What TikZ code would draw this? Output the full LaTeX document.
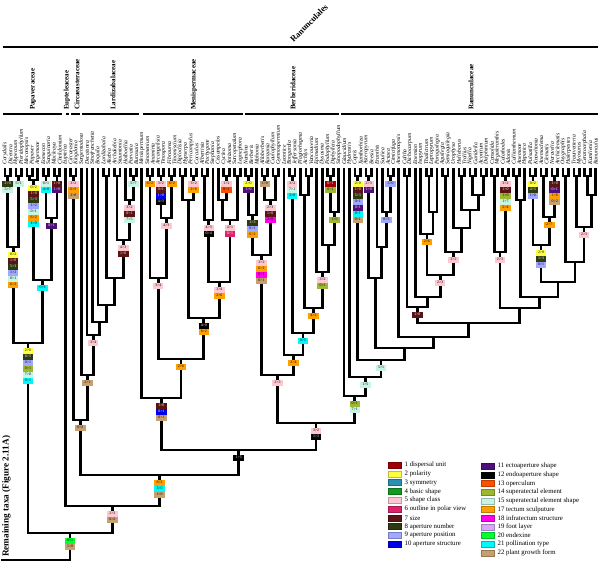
\documentclass[tikz,border=0pt]{standalone}
\usepackage{fontspec}
\setmainfont{Liberation Serif}
\usetikzlibrary{calc,positioning}
\definecolor{c1}{HTML}{A00000}\definecolor{c2}{HTML}{FFFF40}\definecolor{c3}{HTML}{2A8FB0}
\definecolor{c4}{HTML}{109A20}\definecolor{c5}{HTML}{FFC8D0}\definecolor{c6}{HTML}{E0206A}
\definecolor{c7}{HTML}{5A1414}\definecolor{c8}{HTML}{2E3A10}\definecolor{c9}{HTML}{A0A8FF}
\definecolor{c10}{HTML}{0000E8}\definecolor{c11}{HTML}{50107A}\definecolor{c12}{HTML}{000000}
\definecolor{c13}{HTML}{FF5000}\definecolor{c14}{HTML}{9CB830}\definecolor{c15}{HTML}{C8F4E4}
\definecolor{c17}{HTML}{FFA000}\definecolor{c18}{HTML}{FF00E8}\definecolor{c19}{HTML}{D8A8FF}
\definecolor{c20}{HTML}{00FF30}\definecolor{c21}{HTML}{00F8F8}\definecolor{c22}{HTML}{C8A070}
\colorlet{t1}{white}\colorlet{t2}{black}\colorlet{t3}{white}\colorlet{t4}{white}\colorlet{t5}{black}
\colorlet{t6}{white}\colorlet{t7}{white}\colorlet{t8}{white}\colorlet{t9}{black}\colorlet{t10}{white}
\colorlet{t11}{white}\colorlet{t12}{white}\colorlet{t13}{black}\colorlet{t14}{black}\colorlet{t15}{black}
\colorlet{t17}{black}\colorlet{t18}{black}\colorlet{t19}{black}\colorlet{t20}{black}\colorlet{t21}{black}
\colorlet{t22}{black}
\tikzset{
  branch/.style={line width=2.7pt},
  taxon/.style={rotate=90, anchor=west, inner sep=0pt, font=\fontsize{5.7}{6}\selectfont\itshape},
  family/.style={rotate=90, anchor=west, inner sep=0pt, font=\fontsize{7}{7}\selectfont\bfseries},
  famline/.style={line width=1.5pt},
  chg/.style={fill=c#1, text=t#1, inner sep=0pt, minimum width=10.5pt, minimum height=6pt, font=\fontsize{3.9}{4}\selectfont},
  swatch/.style={fill=c#1, draw=c#1!75!black, line width=0.4pt, minimum width=12.5pt, minimum height=6pt, inner sep=0pt},
  legtext/.style={inner sep=0pt, font=\fontsize{6.8}{7}\selectfont}
}
% join two branches at height #4
\newcommand\jn[4]{\path let \p1=(#2), \p2=(#3) in coordinate (#1) at ({(\x1+\x2)/2},{-#4pt});
  \draw[branch] (#2) |- (#1) -| (#3);}
% stack of character changes under a node
\newcommand\chgs[2]{\foreach \c/\t [count=\k] in {#2} \node[chg=\c] (#1m\k) at ($(#1)+(0,{1.5+6*\k})$) {\t};}
\begin{document}
\begin{tikzpicture}[x=1pt, y=-1pt, line join=miter]
\useasboundingbox (0,0) rectangle (600,562);
\node[rotate=45, font=\fontsize{8.5}{9}\selectfont\bfseries] (ordo) at (309,23) {Ranunculales};
\draw[line width=2pt] (3,47) -- (598,47);
\draw[famline] (3,114) -- (62,114) (65.5,114) -- (68.5,114) (71,114) -- (80,114) (82,114) -- (139,114)
  (143,114) -- (243,114) (245,114) -- (339,114) (341,114) -- (598,114);
\node[family] (fpap) at (33,110) {Papaveraceae};
\node[family] (feup) at (67,110) {Eupteleaceae};
\node[family] (fcir) at (77,110) {Circaeasteraceae};
\node[family] (flar) at (113,110) {Lardizabalaceae};
\node[family] (fmen) at (194,110) {Menispermaceae};
\node[family] (fber) at (293,110) {Berberidaceae};
\node[family] (fran) at (471,110) {Ranunculaceae};
\foreach \n [count=\i from 0] in {Corydalis,Dicentra,Hypecoum,Pteridophyllum,Meconopsis,Papaver,Argemone,Eomecon,Sanguinaria,Macleaya,Chelidonium,
  Euptelea,Circaeaster,Kingdonia,
  Sargentodoxa,Decaisnea,Sinofranchetia,Boquila,Lardizabala,Akebia,Archakebia,Stauntonia,Holboellia,Parvatia,Burasaia,
  Menispermum,Sinomenium,Anamirta,Arcangelisia,Tinospora,Fibraurea,Tinomiscium,Diploclisia,Hypserpa,Pericampylus,Cocculus,Albertisia,Pachygone,Stephania,Cissampelos,Cyclea,Antizoma,Sarcopetalum,Legnephora,
  Nandina,Berberis,Mahonia,Alloberberis,Ranzania,Caulophyllum,Gymnospermium,Leontice,Bongardia,Jeffersonia,Plagiorhegma,Achlys,Vancouveria,Epimedium,Dysosma,Podophyllum,Diphylleia,Sinopodophyllum,
  Glaucidium,Hydrastis,Coptis,Xanthorhiza,Asteropyrum,Beesia,Eranthis,Souliea,Actaea,Cimicifuga,Anemonopsis,Caltha,Dichocarpum,Enemion,Isopyrum,Thalictrum,Leptopyrum,Paraquilegia,Aquilegia,Semiaquilegia,Urophysa,Helleborus,Trollius,Nigella,Garidella,Aconitum,Delphinium,Consolida,Megaleranthis,Calathodes,Adonis,Callianthemum,Anemone,Hepatica,Pulsatilla,Knowltonia,Anemoclema,Clematis,Naravelia,Archiclematis,Oxygraphis,Halerpestes,Trautvetteria,Myosurus,Ceratocephala,Kumlienia,Ranunculus}
  {\coordinate (t\i) at ({5+5.47*\i},168); \node[taxon] (n\i) at ({5+5.47*\i},165) {\n};}
% Papaveraceae
\jn{p1}{t0}{t1}{176} \jn{p2}{t2}{t3}{176} \jn{pA}{p1}{p2}{247}
\jn{p3}{t4}{t5}{176} \jn{p4}{p3}{t6}{180} \jn{p5}{t7}{t8}{176} \jn{p6}{t9}{t10}{176}
\jn{p7}{p5}{p6}{218} \jn{pB}{p4}{p7}{280} \jn{pap}{pA}{pB}{343}
% Circaeasteraceae, Lardizabalaceae
\jn{ci}{t12}{t13}{176}
\jn{l1}{t18}{t19}{176} \jn{l2}{t20}{t21}{176} \jn{l3}{t23}{t24}{176} \jn{l4}{t22}{l3}{200}
\jn{l5}{l2}{l4}{240} \jn{l6}{l1}{l5}{278} \jn{l7}{t17}{l6}{305} \jn{l8}{t16}{l7}{322}
\jn{l9}{t15}{l8}{335} \jn{lar}{t14}{l9}{375} \jn{cl}{ci}{lar}{420}
% Menispermaceae
\jn{m1}{t26}{t27}{176} \jn{m2}{t28}{t29}{176} \jn{m3}{t30}{t31}{176} \jn{m4}{m2}{m3}{218} \jn{m5}{m1}{m4}{278}
\jn{m6}{t32}{t33}{176} \jn{m7}{t34}{t35}{176} \jn{m8}{m6}{m7}{200}
\jn{m9}{t36}{t37}{176} \jn{m10}{m9}{t38}{220} \jn{m11}{t40}{t41}{176} \jn{m12}{t39}{m11}{200}
\jn{m13}{t42}{t43}{176} \jn{m14}{m12}{m13}{220} \jn{m15}{m10}{m14}{282} \jn{m16}{m8}{m15}{318}
\jn{m17}{m5}{m16}{359} \jn{men}{t25}{m17}{398}
% Berberidaceae
\jn{b1}{t44}{t45}{176} \jn{b2}{b1}{t46}{215} \jn{b3}{t47}{t48}{176} \jn{b4}{t49}{t50}{176}
\jn{b5}{b3}{b4}{200} \jn{b6}{b2}{b5}{255}
\jn{b7}{t52}{t53}{176} \jn{b8}{t55}{t56}{176} \jn{b9}{t54}{b8}{195} \jn{b10}{t59}{t60}{176}
\jn{b11}{b10}{t61}{212} \jn{b12}{t58}{b11}{245} \jn{b13}{t57}{b12}{272} \jn{b14}{b9}{b13}{308}
\jn{b15}{b7}{b14}{333} \jn{b16}{t51}{b15}{355} \jn{ber}{b6}{b16}{375}
% Ranunculaceae
\jn{r1}{t64}{t65}{176} \jn{r2}{t66}{t67}{176} \jn{r3}{t70}{t71}{176} \jn{r4}{t69}{r3}{212}
\jn{r5}{t68}{r4}{247} \jn{r6}{r2}{r5}{278} \jn{r8}{t73}{t74}{176}
\jn{r9}{t77}{t78}{176} \jn{r10}{r9}{t79}{212} \jn{r12}{t76}{r10}{234}
\jn{r13}{t80}{t81}{176} \jn{r14}{t83}{t84}{176} \jn{r15}{t85}{t86}{176} \jn{r17}{t87}{t88}{176}
\jn{r16}{r15}{r17}{195} \jn{r18}{r14}{r16}{210} \jn{r11}{t82}{r18}{228} \jn{r19}{r13}{r11}{252}
\jn{r20}{r12}{r19}{275} \jn{r46}{t75}{r20}{297} \jn{r21}{r8}{r46}{307}
\jn{r22}{t89}{t90}{176} \jn{r23}{t91}{t92}{176} \jn{r24}{r22}{r23}{252}
\jn{r25}{t93}{t94}{176} \jn{r26}{r25}{t95}{200} \jn{r27}{t96}{t97}{176} \jn{r28}{t98}{t99}{176}
\jn{r29}{t100}{t101}{176} \jn{r30}{r28}{r29}{217} \jn{r31}{r27}{r30}{245}
\jn{r32}{t102}{t103}{176} \jn{r33}{t104}{t105}{176} \jn{r34}{t106}{t107}{176} \jn{r35}{r34}{t108}{195}
\jn{r36}{r33}{r35}{227} \jn{r37}{r32}{r36}{262} \jn{r38}{r31}{r37}{282} \jn{r39}{r26}{r38}{297}
\jn{r40}{r24}{r39}{308} \jn{r41}{r21}{r40}{323} \jn{r42}{t72}{r41}{337} \jn{r43}{r6}{r42}{348}
\jn{r44}{r1}{r43}{360} \jn{r45}{t63}{r44}{377} \jn{ran}{t62}{r45}{396}
% backbone
\jn{br}{ber}{ran}{423} \jn{mb}{men}{br}{450} \jn{lmb}{cl}{mb}{475} \jn{elmb}{t11}{lmb}{506}
\jn{root}{pap}{elmb}{533}
\coordinate (base) at (1,560);
\draw[branch] (root) |- (base);
\node[rotate=90, anchor=west, inner sep=0pt, font=\fontsize{9.2}{10}\selectfont\bfseries] (rest) at (6.5,557) {Remaining taxa (Figure 2.11A)};
% character changes
\chgs{p1}{8/2>0,15/5>7} \chgs{p2}{15/5>1} \chgs{pA}{2/0>2,7/1>0,8/5>3,9/1>2,15/0>1,17/6>2}
\chgs{p4}{2/0>2,7/1>0,8/5>3,9/1>2,15/0>1,17/6>2,21/4>0} \chgs{p5}{15/0>1,21/4>0} \chgs{p6}{7/1>0,11/1>0}
\chgs{p7}{11/0>1} \chgs{pB}{21/0>3} \chgs{pap}{2/2>0,8/8>5,9/0>1,14/0>1,15/7>0,21/0>1}
\chgs{ci}{5/3>2,17/6>2,22/2>0} \chgs{l3}{15/5>7} \chgs{l4}{5/3>2,7/0>1,15/7>5} \chgs{l5}{5/4>3,7/1>0}
\chgs{l9}{5/3>4} \chgs{lar}{22/2>1} \chgs{cl}{22/0>2}
\chgs{m1}{17/6>2} \chgs{m2}{5/3>2,7/0>1,10/1>0,12/4>3} \chgs{m3}{17/6>2} \chgs{m4}{5/4>3} \chgs{m5}{5/3>4}
\chgs{m7}{5/3>2,17/2>6} \chgs{m10}{5/4>3,12/0>4} \chgs{m11}{5/1>2,13/0>1} \chgs{m14}{5/4>1,6/0>1}
\chgs{m15}{5/3>4,17/2>6} \chgs{m16}{12/4>0,17/6>2} \chgs{m17}{17/2>6} \chgs{men}{7/1>0,10/0>1,22/0>1}
\chgs{b1}{2/2>0,11/1>0} \chgs{b2}{8/1>3,9/0>1,17/6>2} \chgs{b3}{22/1>0} \chgs{b5}{5/2>3,7/1>0,18/2>0}
\chgs{b6}{5/3>2,17/6>2,18/0>1,22/0>1} \chgs{b7}{5/3>2,15/7>1,21/3>0} \chgs{b10}{1/0>1,14/0>1}
\chgs{b11}{14/1>0} \chgs{b13}{5/3>2,14/0>1} \chgs{b14}{17/4>2} \chgs{b15}{21/0>5} \chgs{b16}{17/2>4}
\chgs{ber}{5/2>3}
\chgs{r1}{2/2>0,7/1>0,8/5>3,9/0>1,11/0>1,21/0>1,22/0>1} \chgs{r2}{5/2>3,11/1>0} \chgs{r3}{9/3>0}
\chgs{r4}{9/0>3} \chgs{r12}{17/2>6} \chgs{r19}{5/3>2} \chgs{r20}{5/2>3} \chgs{r21}{7/1>0}
\chgs{r23}{5/3>2,7/1>0,14/1>0,15/1>7,17/2>4} \chgs{r24}{5/2>3} \chgs{r27}{2/0>2,8/4>3,9/1>0}
\chgs{r29}{7/1>0,11/0>1,17/1>6,22/0>2} \chgs{r30}{17/2>7} \chgs{r31}{2/2>0,8/1>3,9/0>1}
\chgs{r36}{5/2>3} \chgs{r44}{15/5>1} \chgs{r45}{15/1>5} \chgs{ran}{14/0>1,15/7>1}
\chgs{br}{5/3>2,12/1>3} \chgs{mb}{12/1>5} \chgs{lmb}{17/6>2,21/3>0,22/1>0} \chgs{elmb}{5/2>3,22/0>2}
\chgs{root}{20/0>1,22/1>0}
% legend
\foreach \k/\t [count=\r from 0] in {1/dispersal unit,2/polarity,3/symmetry,4/basic shape,5/shape class,
  6/outline in polar view,7/size,8/aperture number,9/aperture position,10/aperture structure}
  {\node[swatch=\k] (sw\k) at (394.5,{465+8.8*\r}) {}; \node[legtext, right=3.5pt of sw\k] (lt\k) {\k\ \t};}
\foreach \k/\t [count=\r from 0] in {11/ectoaperture shape,12/endoaperture shape,13/operculum,14/superatectal element,
  15/superatectal element shape,17/tectum sculputure,18/infratectum structure,19/foot layer,20/endexine,
  21/pollination type,22/plant growth form}
  {\node[swatch=\k] (sw\k) at (487.5,{466+8.7*\r}) {}; \node[legtext, right=3.5pt of sw\k] (lt\k) {\k\ \t};}
\end{tikzpicture}
\end{document}
